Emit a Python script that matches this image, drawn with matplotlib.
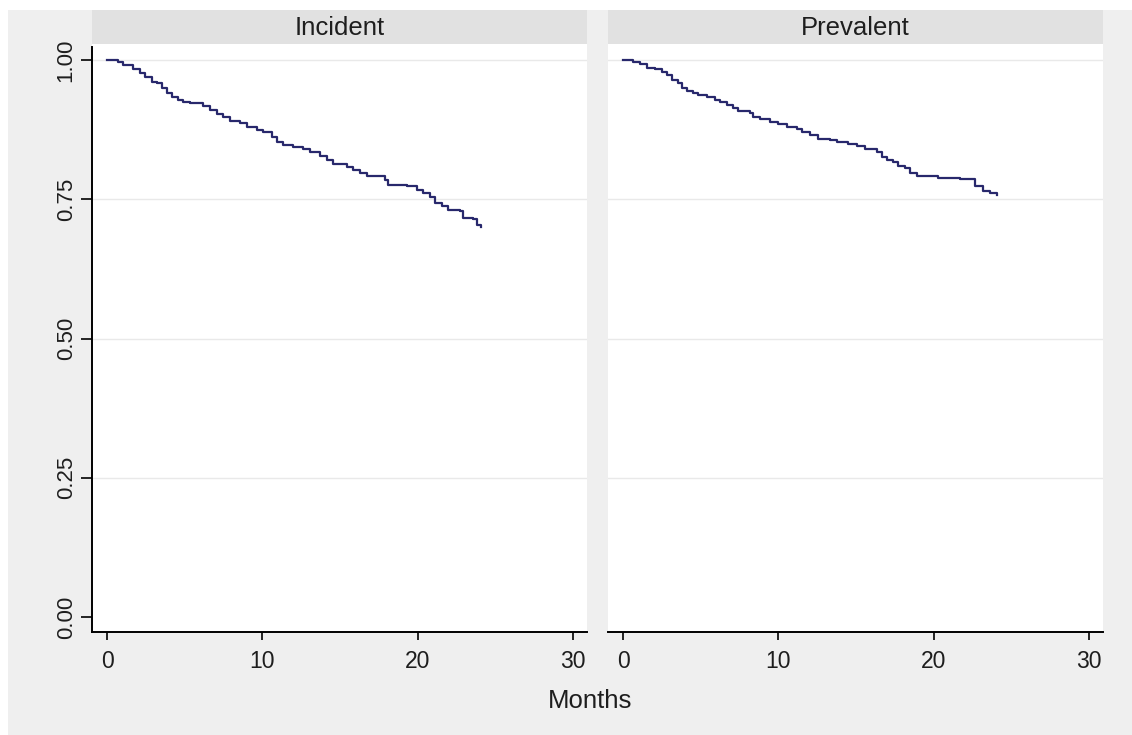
import numpy as np
import matplotlib.pyplot as plt
from matplotlib.patches import Rectangle

plt.rcParams['font.family'] = ['Liberation Sans', 'DejaVu Sans']

# Kaplan-Meier estimates read off the survival table (months, survival)
incident_t = [0.0, 0.73, 1.05, 1.70, 2.12, 2.45, 2.88, 3.20, 3.52, 3.84, 4.16,
              4.59, 4.91, 5.34, 6.20, 6.63, 7.06, 7.49, 7.92, 8.56, 8.99,
              9.64, 10.06, 10.60, 10.93, 11.35, 12.00, 12.64, 13.07, 13.72,
              14.15, 14.57, 15.43, 15.86, 16.29, 16.72, 17.26, 17.90, 18.11,
              19.30, 19.94, 20.37, 20.80, 21.12, 21.55, 21.98, 22.73, 22.94,
              23.59, 23.81, 24.06]
incident_s = [1.000, 0.997, 0.991, 0.983, 0.976, 0.970, 0.961, 0.958, 0.949,
              0.940, 0.933, 0.929, 0.925, 0.922, 0.917, 0.910, 0.903, 0.897,
              0.891, 0.886, 0.880, 0.874, 0.870, 0.862, 0.853, 0.847, 0.843,
              0.841, 0.835, 0.828, 0.820, 0.813, 0.808, 0.803, 0.798, 0.792,
              0.791, 0.785, 0.776, 0.773, 0.767, 0.761, 0.754, 0.743, 0.737,
              0.731, 0.729, 0.716, 0.715, 0.704, 0.700]

prevalent_t = [0.0, 0.66, 1.09, 1.53, 2.06, 2.49, 2.81, 3.13, 3.56, 3.78, 4.10,
               4.53, 4.85, 5.39, 5.92, 6.25, 6.68, 7.10, 7.43, 8.18, 8.39,
               8.82, 9.47, 10.00, 10.54, 11.18, 11.51, 12.04, 12.58, 13.33,
               13.76, 14.51, 15.05, 15.58, 16.34, 16.66, 16.98, 17.41, 17.73,
               18.16, 18.48, 18.91, 20.30, 21.70, 22.67, 23.20, 23.63, 24.06]
prevalent_s = [1.000, 0.997, 0.993, 0.985, 0.983, 0.979, 0.973, 0.964, 0.958,
               0.949, 0.945, 0.941, 0.937, 0.933, 0.928, 0.924, 0.919, 0.914,
               0.908, 0.904, 0.897, 0.894, 0.889, 0.885, 0.879, 0.876, 0.870,
               0.865, 0.859, 0.856, 0.852, 0.850, 0.846, 0.840, 0.835, 0.826,
               0.820, 0.817, 0.810, 0.806, 0.798, 0.792, 0.789, 0.787, 0.773,
               0.765, 0.761, 0.757]

panels = ['Incident', 'Prevalent']
x_ticks = [0, 10, 20, 30]
y_ticks = [0.00, 0.25, 0.50, 0.75, 1.00]
y_labels = ['0.00', '0.25', '0.50', '0.75', '1.00']

W, H = 1132, 735
fig = plt.figure(figsize=(W / 100, H / 100), dpi=100, facecolor='white')

# outer grey background
fig.patches.append(Rectangle((8 / W, 0), 1 - 8 / W, 1 - 10 / H,
                             transform=fig.transFigure, facecolor='#efefef',
                             edgecolor='none', zorder=-5))

line_col = '#28286c'
txt_col = '#1e1e1e'
curves = [(incident_t, incident_s), (prevalent_t, prevalent_s)]
lefts = [92, 608]
pw = 495

for i, (name, (t, s)) in enumerate(zip(panels, curves)):
    x0 = lefts[i] / W
    ax = fig.add_axes([x0, 1 - 632 / H, pw / W, 588 / H])
    ax.set_facecolor('white')
    ax.step(t, s, where='post', color=line_col, lw=1.6, zorder=3)
    ax.set_xlim(-0.966, 30.9)
    ax.set_ylim(-0.0269, 1.0287)
    for yv in y_ticks[1:]:
        ax.axhline(yv, color='#e9e9e9', lw=1.0, zorder=1)
    for side in ['top', 'right']:
        ax.spines[side].set_visible(False)
    ax.spines['bottom'].set_linewidth(1.4)
    ax.set_xticks(x_ticks)
    ax.set_xticklabels([str(v) for v in x_ticks], fontsize=16.5, color=txt_col)
    ax.tick_params(axis='x', direction='out', length=6, width=1.2, pad=7)
    if i == 0:
        ax.spines['left'].set_linewidth(1.4)
        ax.spines['left'].set_bounds(-0.0269, 1.023)
        ax.set_yticks(y_ticks)
        ax.set_yticklabels(y_labels, fontsize=16, rotation=90, va='center',
                           color=txt_col)
        ax.tick_params(axis='y', direction='out', length=8, width=1.2, pad=3)
    else:
        ax.spines['left'].set_visible(False)
        ax.set_yticks([])

    # strip header
    sx = fig.add_axes([x0, 1 - 44 / H, pw / W, 34 / H])
    sx.set_facecolor('#e1e1e1')
    sx.set_xticks([])
    sx.set_yticks([])
    for sp in sx.spines.values():
        sp.set_visible(False)
    sx.text(0.5, 0.47, name, ha='center', va='center', fontsize=18.5,
            color=txt_col, transform=sx.transAxes)

fig.text(590 / W, 1 - 701 / H, 'Months', ha='center', va='center',
         fontsize=18.5, color=txt_col)

fig.savefig('out.png', dpi=100, facecolor='white')
